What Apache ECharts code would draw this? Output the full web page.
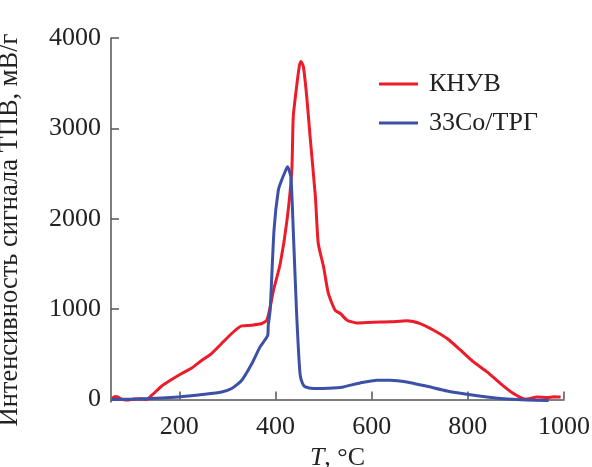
<!DOCTYPE html>
<html><head><meta charset="utf-8">
<script src="https://cdn.jsdelivr.net/npm/echarts@6/dist/echarts.min.js"></script>
<style>html,body{margin:0;padding:0;background:#fff}#c{width:592px;height:467px}</style>
</head><body><div id="c"></div>
<script>
const seriesNames = ['КНУВ', '33Co/ТРГ'];
const xTicks = [200, 400, 600, 800, 1000];
const yTicks = [0, 1000, 2000, 3000, 4000];
const redT = [60,66,72,80,90,105,115,125,132,143,163,184,205,226,247,267,288,309,322,330,351,372,382,389,396,410,424,434,437,444,450,453,458,465,472,483,489,500,510,524,535,549,569,604,639,673,701,729,757,785,812,840,868,895,920,932,944,965,980,993];
const redV = [10,35,30,5,-5,5,10,5,0,48,147,221,288,350,435,509,620,731,790,815,823,841,878,1025,1210,1506,1985,2539,3130,3462,3700,3739,3684,3351,2908,2244,1727,1469,1174,989,952,878,848,856,860,871,841,767,675,546,416,306,177,66,3,15,29,22,30,29];
const blueT = [60,115,198,253,288,309,330,351,368,384,385,389,397,406,413,420,425,432,437,444,451,456,462,479,510,541,576,611,639,673,715,757,798,840,882,923,968];
const blueV = [0,7,29,59,84,122,214,399,583,712,823,989,1875,2318,2429,2520,2576,2465,1875,952,288,180,140,122,125,140,184,214,214,195,147,95,59,29,7,-5,-10];

const pairs = (t, v) => t.map((x, i) => [x, v[i]]);
const font = '"Liberation Serif", "Times New Roman", serif';
const ink = '#222';
const chart = echarts.init(document.getElementById('c'));
chart.setOption({
  animation: false,
  grid: { left: 111, right: 28, top: 38, bottom: 65, outerBoundsMode: 'none', containLabel: false },
  legend: {
    left: 374, top: 66, orient: 'vertical', itemWidth: 39, itemHeight: 3, itemGap: 13,
    icon: 'rect',
    textStyle: { fontFamily: font, fontSize: 26, color: ink, padding: [0, 0, 0, 6] },
    data: seriesNames
  },
  xAxis: {
    type: 'value', min: 58, max: 1000,
    name: '{i|T}, °C', nameLocation: 'middle', nameGap: 37,
    nameTextStyle: { fontFamily: font, fontSize: 26, color: ink,
      rich: { i: { fontFamily: font, fontSize: 26, fontStyle: 'italic', color: ink } } },
    axisLine: { lineStyle: { color: '#555', width: 1.5 } },
    axisTick: { inside: true, length: 8, customValues: xTicks, lineStyle: { color: '#555', width: 1.5 } },
    axisLabel: { customValues: xTicks, fontFamily: font, fontSize: 26, color: ink, margin: 12, formatter: v => String(v) },
    splitLine: { show: false }
  },
  yAxis: {
    type: 'value', min: -27, max: 4000,
    name: 'Интенсивность сигнала ТПВ, мВ/г', nameLocation: 'middle', nameGap: 87, nameRotate: 90,
    nameTextStyle: { fontFamily: font, fontSize: 26.5, color: ink, padding: [0, 20, 0, 0] },
    axisLine: { show: true, lineStyle: { color: '#555', width: 1.5 } },
    axisTick: { show: true, inside: true, length: 8, customValues: yTicks, lineStyle: { color: '#555', width: 1.5 } },
    axisLabel: { customValues: yTicks, fontFamily: font, fontSize: 26, color: ink, margin: 10, formatter: v => String(v) },
    splitLine: { show: false }
  },
  series: [
    { name: seriesNames[0], type: 'line', symbol: 'none', smooth: 0.2, data: pairs(redT, redV),
      lineStyle: { color: '#ec1c2b', width: 3 }, itemStyle: { color: '#ec1c2b' } },
    { name: seriesNames[1], type: 'line', symbol: 'none', smooth: 0.2, data: pairs(blueT, blueV),
      lineStyle: { color: '#3c51a6', width: 3 }, itemStyle: { color: '#3c51a6' } }
  ]
});
</script></body></html>
